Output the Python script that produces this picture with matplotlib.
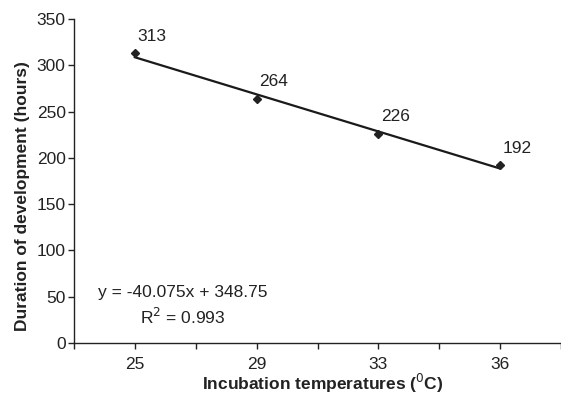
import numpy as np
import matplotlib
matplotlib.use("Agg")
from matplotlib import pyplot as plt

plt.rcParams['font.family'] = ['Liberation Sans', 'DejaVu Sans']

temps = ["25", "29", "33", "36"]
hours = [313, 264, 226, 192]
slope = -40.075
intercept = 348.75
r2 = 0.993

W, H = 561, 395
fs = 12.5
fig = plt.figure(figsize=(W / 100, H / 100), dpi=100)
left, right, top, bottom = 74, 561, 19, 343
ax = fig.add_axes([left / W, 1 - bottom / H, (right - left) / W, (bottom - top) / H])

x = np.arange(1, len(temps) + 1)
step = 124.0  # px per category
ax.set_xlim(0.5, 0.5 + (right - left) / step)
ax.set_ylim(0, 350)

# trendline
xt = np.array([x[0], x[-1]])
ax.plot(xt, slope * xt + intercept, color="#1a1a1a", lw=1.6, zorder=2)
ax.plot(x, hours, linestyle="none", marker="D", ms=4.5, color="#222222", zorder=3)

for xi, v in zip(x, hours):
    ax.annotate(str(v), (xi, v), xytext=(2, 7), textcoords="offset points",
                ha="left", va="bottom", fontsize=fs, color="#222222")

ax.text(0.5 + (185 - left) / step, 350 * (bottom - 293) / (bottom - top),
        f"y = {slope}x + {intercept}", ha="center", va="center", fontsize=fs, color="#222222")
ax.text(0.5 + (185 - left) / step, 350 * (bottom - 317) / (bottom - top),
        r"R$^{2}$ = " + f"{r2}", ha="center", va="center", fontsize=fs, color="#222222")

ax.set_xticks(x)
ax.set_xticklabels(temps)
ax.set_xticks(np.arange(0.5, 4.6, 0.5), minor=True)
ax.tick_params(axis="x", which="both", direction="out", length=4, width=1, colors="#222222", labelsize=fs, pad=6)
ax.set_yticks(np.arange(0, 351, 50))
ax.tick_params(axis="y", direction="out", length=4, width=1, colors="#222222", labelsize=fs, pad=2)

for s in ["top", "right"]:
    ax.spines[s].set_visible(False)
for s in ["left", "bottom"]:
    ax.spines[s].set_color("#222222")
    ax.spines[s].set_linewidth(1)

ax.set_xlabel(r"Incubation temperatures ($^{0}$C)", fontsize=fs, fontweight="bold", color="#222222")
ax.xaxis.set_label_coords((323 - left) / (right - left), -(372 - bottom) / (bottom - top))
ax.set_ylabel("Duration of development (hours)", fontsize=fs, fontweight="bold", color="#222222")
ax.yaxis.set_label_coords(-(left - 30) / (right - left), (bottom - 196) / (bottom - top))

fig.savefig("out.png", dpi=100)
